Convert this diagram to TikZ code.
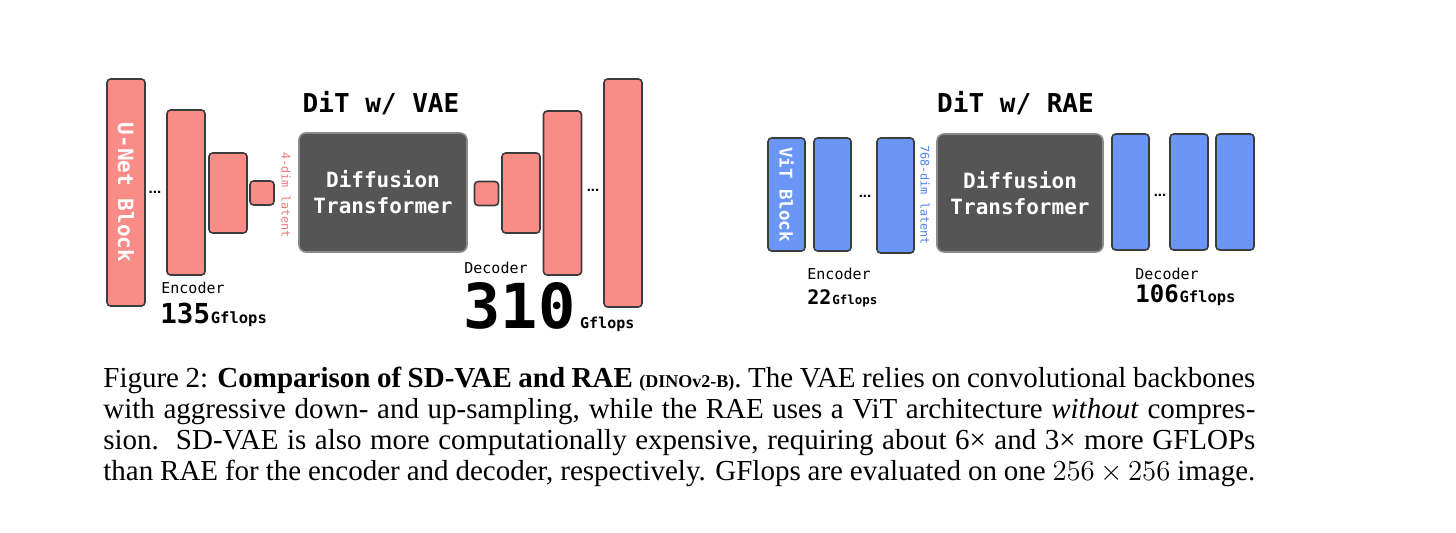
\documentclass[tikz,border=0pt]{standalone}
\usepackage{fontspec}
\setmainfont{Liberation Serif}
\newfontfamily\dmono{DejaVu Sans Mono}
\newfontfamily\dsans{Liberation Sans}

\definecolor{vaered}{HTML}{F98C87}
\definecolor{raeblue}{HTML}{6A96F7}
\definecolor{ditgray}{HTML}{555555}
\definecolor{ditedge}{HTML}{8A8A8A}
\definecolor{baredge}{HTML}{3C3C3C}
\definecolor{vaetext}{HTML}{F07878}
\definecolor{raetext}{HTML}{5082F0}

\tikzset{
  px/.style 2 args={minimum width={#1*0.5pt}, minimum height={#2*0.5pt}},
  vae_bar/.style={draw=baredge, line width=0.8pt, fill=vaered, rounded corners=1.8pt, inner sep=0pt},
  rae_bar/.style={draw=baredge, line width=0.8pt, fill=raeblue, rounded corners=1.8pt, inner sep=0pt},
  dit_box/.style={draw=ditedge, line width=0.8pt, fill=ditgray, rounded corners=3.5pt, inner sep=0pt,
    text=white, align=center, font=\dmono\bfseries\fontsize{10.5}{13}\selectfont},
  blk_txt/.style={rotate=-90, text=white, inner sep=0pt, font=\dmono\bfseries\fontsize{#1}{#1}\selectfont},
  lat_txt/.style={rotate=-90, inner sep=0pt, font=\dmono\fontsize{5.9}{5.9}\selectfont},
  dots/.style={inner sep=0pt, font=\dsans\bfseries\fontsize{7.5}{7.5}\selectfont},
  lbl/.style={anchor=base west, inner sep=0pt, font=\dmono\fontsize{7.5}{7.5}\selectfont},
  flops/.style={anchor=base west, inner sep=0pt, font=\dmono\bfseries\fontsize{#1}{#1}\selectfont},
  title/.style={inner sep=0pt, font=\dmono\bfseries\fontsize{13}{13}\selectfont},
  cap_line/.style={anchor=base west, inner sep=0pt, font=\fontsize{14.5}{15.5}\selectfont},
}

\begin{document}
\begin{tikzpicture}[x=0.5pt, y=-0.5pt]
  \useasboundingbox (0,0) rectangle (1456,532);

  % DiT w/ VAE
  \node[title] (vae_title) at (381,103) {DiT w/ VAE};
  \node[vae_bar, px={38}{227}] (unet) at (126,192.5) {};
  \node[blk_txt=10.5] at (unet.center) {U-Net Block};
  \node[dots] (vae_dots1) at (155,192) {...};
  \node[vae_bar, px={38}{165}] (vae_e1) at (186,192.5) {};
  \node[vae_bar, px={38}{80}] (vae_e2) at (228,193) {};
  \node[vae_bar, px={24}{24}] (vae_e3) at (262,193) {};
  \node[lat_txt, text=vaetext] (vae_lat) at (286,195) {4-dim latent};
  \node[dit_box, px={168}{119}] (vae_dit) at (383,192.5) {Diffusion\\Transformer};
  \node[vae_bar, px={24}{24}] (vae_d1) at (486.5,193.5) {};
  \node[vae_bar, px={38}{80}] (vae_d2) at (521,193) {};
  \node[vae_bar, px={38}{164}] (vae_d3) at (562.5,193) {};
  \node[dots] (vae_dots2) at (593,190) {...};
  \node[vae_bar, px={38}{228}] (vae_d4) at (623,193) {};

  \node[lbl] (vae_enc) at (161,293) {Encoder};
  \node[flops=13.75] (vae_enc_n) at (160,323) {135};
  \node[flops=7.75] at (vae_enc_n.base east) [anchor=base west] {Gflops};
  \node[lbl] (vae_dec) at (464,273) {Decoder};
  \node[flops=31] (vae_dec_n) at (463,328) {310};
  \node[flops=7.5] at (vae_dec_n.base east) [anchor=base west, xshift=2pt] {Gflops};

  % DiT w/ RAE
  \node[title] (rae_title) at (1015.5,103) {DiT w/ RAE};
  \node[rae_bar, px={37}{113}] (vit) at (786.5,194.5) {};
  \node[blk_txt=8.75] at (vit.center) {ViT Block};
  \node[rae_bar, px={37}{113}] (rae_e1) at (832.5,194.5) {};
  \node[dots] (rae_dots1) at (865,196) {...};
  \node[rae_bar, px={37}{115}] (rae_e2) at (895.5,195.5) {};
  \node[lat_txt, text=raetext] (rae_lat) at (925,195) {768-dim latent};
  \node[dit_box, px={166}{118}] (rae_dit) at (1020,193) {Diffusion\\Transformer};
  \node[rae_bar, px={37}{116}] (rae_d1) at (1130.5,192) {};
  \node[dots] (rae_dots2) at (1160,195) {...};
  \node[rae_bar, px={38}{116}] (rae_d2) at (1189,192) {};
  \node[rae_bar, px={38}{116}] (rae_d3) at (1235,192) {};

  \node[lbl] (rae_enc) at (807,279) {Encoder};
  \node[flops=10] (rae_enc_n) at (807,304) {22};
  \node[flops=6.25] at (rae_enc_n.base east) [anchor=base west] {Gflops};
  \node[lbl] (rae_dec) at (1135,279) {Decoder};
  \node[flops=12] (rae_dec_n) at (1135,302) {106};
  \node[flops=7.75] at (rae_dec_n.base east) [anchor=base west] {Gflops};

  % caption
  \node[cap_line] (cap1) at (103,387) {\makebox[576pt][s]{Figure 2: \textbf{Comparison of SD-VAE and RAE} {\bfseries\fontsize{9}{9}\selectfont (DINOv2-B)}. The VAE relies on convolutional backbones}};
  \node[cap_line] (cap2) at (103,418) {\makebox[576pt][s]{with aggressive down- and up-sampling, while the RAE uses a ViT architecture \textit{without} compres-}};
  \node[cap_line] (cap3) at (103,449) {\makebox[576pt][s]{sion.\ \ SD-VAE is also more computationally expensive, requiring about 6× and 3× more GFLOPs}};
  \node[cap_line] (cap4) at (103,480) {\makebox[576pt][s]{than RAE for the encoder and decoder, respectively. GFlops are evaluated on one $256\times256$ image.}};
\end{tikzpicture}
\end{document}
